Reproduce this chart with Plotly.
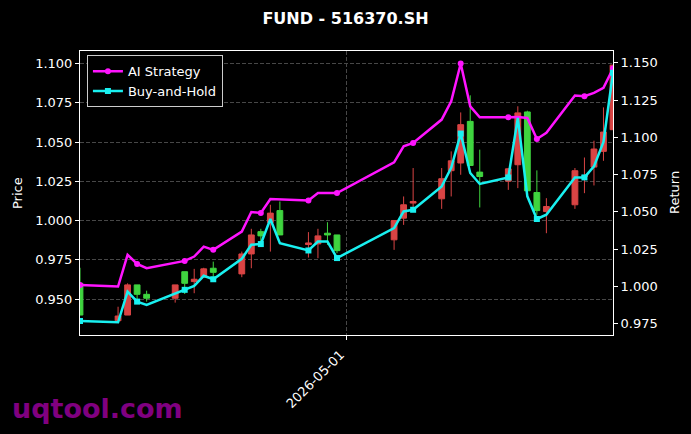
import plotly.graph_objects as go

dates = ["2026-04-03", "2026-04-07", "2026-04-08", "2026-04-09", "2026-04-10",
         "2026-04-13", "2026-04-14", "2026-04-15", "2026-04-16", "2026-04-17",
         "2026-04-20", "2026-04-21", "2026-04-22", "2026-04-23", "2026-04-24",
         "2026-04-27", "2026-04-28", "2026-04-29", "2026-04-30",
         "2026-05-06", "2026-05-07", "2026-05-08",
         "2026-05-11", "2026-05-12", "2026-05-13", "2026-05-14", "2026-05-15",
         "2026-05-18", "2026-05-19", "2026-05-20", "2026-05-21", "2026-05-22",
         "2026-05-25", "2026-05-26", "2026-05-27", "2026-05-28", "2026-05-29"]

open_ = [0.9601, 0.9363, 0.9399, 0.9591, 0.9531,
         0.9506, 0.9675, 0.9612, 0.9640, 0.9697,
         0.9661, 0.9788, 0.9930, 0.9988, 1.0064,
         0.9848, 0.9852, 0.9920, 0.9909,
         0.9878, 1.0016, 1.0112,
         1.0139, 1.0318, 1.0367, 1.0632, 1.0309,
         1.0251, 1.0356, 1.0692, 1.0179, 1.0058,
         1.0101, 1.0280, 1.0341, 1.0441, 1.0579]
high = [0.9700, 0.9452, 0.9601, 0.9591, 0.9554,
        0.9591, 0.9675, 0.9693, 0.9700, 0.9739,
        0.9803, 0.9948, 0.9948, 1.0101, 1.0122,
        0.9927, 0.9948, 0.9990, 0.9909,
        1.0001, 1.0154, 1.0335,
        1.0335, 1.0441, 1.0689, 1.0798, 1.0452,
        1.0335, 1.0728, 1.0700, 1.0320, 1.0143,
        1.0335, 1.0402, 1.0509, 1.0721, 1.0990]
low = [0.9399, 0.9363, 0.9399, 0.9495, 0.9484,
       0.9478, 0.9533, 0.9538, 0.9640, 0.9643,
       0.9640, 0.9697, 0.9857, 0.9803, 0.9909,
       0.9765, 0.9761, 0.9846, 0.9793,
       0.9814, 0.9973, 1.0058,
       1.0075, 1.0154, 1.0292, 1.0351, 1.0084,
       1.0196, 1.0207, 1.0190, 1.0037, 0.9920,
       1.0075, 1.0175, 1.0224, 1.0381, 1.0579]
close = [0.9399, 0.9393, 0.9591, 0.9531, 0.9506,
         0.9591, 0.9601, 0.9627, 0.9693, 0.9671,
         0.9788, 0.9909, 0.9903, 1.0048, 0.9909,
         0.9858, 0.9903, 0.9909, 0.9809,
         1.0001, 1.0101, 1.0122,
         1.0267, 1.0381, 1.0611, 1.0351, 1.0281,
         1.0330, 1.0686, 1.0190, 1.0064, 1.0090,
         1.0318, 1.0286, 1.0456, 1.0564, 1.0990]

ai_strategy = [1.0010, 0.9999, 1.0212, 1.0151, 1.0122,
               1.0160, 1.0171, 1.0200, 1.0267, 1.0245,
               1.0368, 1.0499, 1.0492, 1.0586, 1.0585,
               1.0577, 1.0626, 1.0626, 1.0626,
               1.0832, 1.0940, 1.0962,
               1.1119, 1.1242, 1.1495, 1.1208, 1.1134,
               1.1134, 1.1137, 1.1130, 1.0989, 1.1030,
               1.1280, 1.1276, 1.1298, 1.1332, 1.1462]
buy_hold = [0.9768, 0.9759, 0.9965, 0.9898, 0.9876,
            0.9951, 0.9977, 1.0003, 1.0071, 1.0048,
            1.0185, 1.0279, 1.0284, 1.0452, 1.0290,
            1.0241, 1.0301, 1.0301, 1.0190,
            1.0391, 1.0503, 1.0514,
            1.0671, 1.0796, 1.1025, 1.0761, 1.0687,
            1.0731, 1.1130, 1.0604, 1.0452, 1.0481,
            1.0731, 1.0731, 1.0805, 1.0969, 1.1433]

x_ticks = ["2026-05-01"]
left_ticks = [0.950, 0.975, 1.000, 1.025, 1.050, 1.075, 1.100]
right_ticks = [0.975, 1.000, 1.025, 1.050, 1.075, 1.100, 1.125, 1.150]

MARK_EVERY = 3
marked = list(range(0, len(dates), MARK_EVERY))

FONT = "DejaVu Sans"
RED = "#d94444"
GREEN = "#3fd43f"

fig = go.Figure()
fig.add_trace(go.Candlestick(
    x=dates, open=open_, high=high, low=low, close=close,
    increasing=dict(line=dict(color=RED, width=1), fillcolor=RED),
    decreasing=dict(line=dict(color=GREEN, width=1), fillcolor=GREEN),
    whiskerwidth=0, showlegend=False, yaxis="y",
))
fig.add_trace(go.Scatter(
    x=dates, y=ai_strategy, name="AI Strategy", yaxis="y2",
    mode="lines+markers",
    line=dict(color="#ff14ff", width=2.5),
    marker=dict(symbol="circle", size=6, color="#ff14ff"),
    selectedpoints=marked, unselected=dict(marker=dict(opacity=0)),
))
fig.add_trace(go.Scatter(
    x=dates, y=buy_hold, name="Buy-and-Hold", yaxis="y2",
    mode="lines+markers",
    line=dict(color="#19f0f0", width=2.5),
    marker=dict(symbol="square", size=6, color="#19f0f0"),
    selectedpoints=marked, unselected=dict(marker=dict(opacity=0)),
))

axis_font = dict(family=FONT, size=13, color="white")
fig.update_layout(
    width=691, height=434,
    margin=dict(l=80, r=78, t=51, b=99),
    paper_bgcolor="black", plot_bgcolor="black",
    font=dict(family=FONT, size=13, color="white"),
    showlegend=True,
    title=dict(text="<b>FUND - 516370.SH</b>", x=0.5, xanchor="center",
               y=1 - 18 / 434, yanchor="middle",
               font=dict(family=FONT, size=16, color="white")),
    legend=dict(x=0.013, y=0.985, xanchor="left", yanchor="top",
                bgcolor="black", bordercolor="#cccccc", borderwidth=1,
                font=dict(family=FONT, size=13, color="white"),
                itemwidth=30, tracegroupgap=2),
    xaxis=dict(
        type="date", range=[dates[0], dates[-1]],
        rangeslider=dict(visible=False),
        tickvals=x_ticks, ticktext=x_ticks, tickangle=-45,
        ticklabelshift=-6, ticklabelstandoff=2,
        tickfont=axis_font, ticks="outside", ticklen=4, tickcolor="white",
        showline=True, linecolor="white", linewidth=1, mirror=True,
        showgrid=True, gridcolor="#474747", griddash="4px,2px", gridwidth=0.6,
        zeroline=False,
    ),
    yaxis=dict(
        range=[0.9272, 1.108], tickvals=left_ticks, tickformat=".3f",
        tickfont=axis_font, ticks="outside", ticklen=4, tickcolor="white",
        showline=True, linecolor="white", linewidth=1,
        showgrid=True, gridcolor="#474747", griddash="4px,2px", gridwidth=0.6,
        zeroline=False,
    ),
    yaxis2=dict(
        overlaying="y", side="right",
        range=[0.9674, 1.1579], tickvals=right_ticks, tickformat=".3f",
        tickfont=axis_font, ticks="outside", ticklen=4, tickcolor="white",
        showline=True, linecolor="white", linewidth=1,
        showgrid=False, zeroline=False,
    ),
    annotations=[
        dict(text="Price", xref="paper", yref="paper", x=(17 - 80) / 533, y=0.5,
             xanchor="center", yanchor="middle", textangle=-90, showarrow=False,
             font=dict(family=FONT, size=13, color="white")),
        dict(text="Return", xref="paper", yref="paper", x=(674 - 80) / 533, y=0.5,
             xanchor="center", yanchor="middle", textangle=-90, showarrow=False,
             font=dict(family=FONT, size=13, color="white")),
        dict(text="<b>uqtool.com</b>", xref="paper", yref="paper",
             x=(10 - 80) / 533, y=(335 - 408) / 284,
             xanchor="left", yanchor="middle", showarrow=False,
             font=dict(family=FONT, size=27, color="#800080")),
    ],
)
fig.update_layout(boxgap=0.13)

fig.write_html("out.html",
               config={"displayModeBar": False},
               post_script="document.body.style.margin='0';document.body.style.background='black';")
